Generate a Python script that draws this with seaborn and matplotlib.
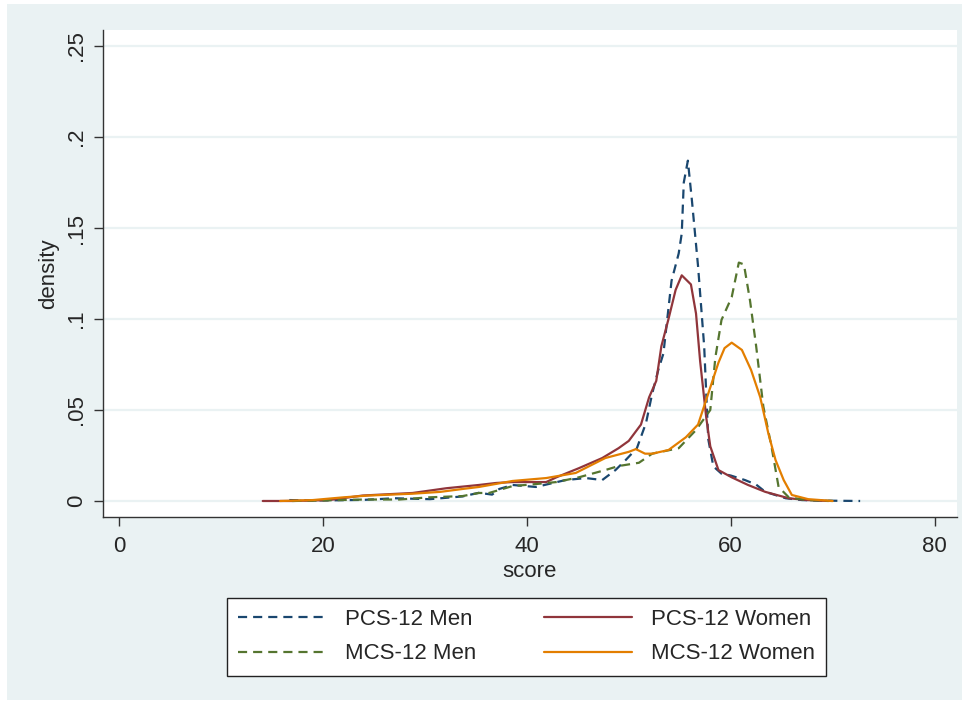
import matplotlib
matplotlib.use("Agg")
import matplotlib.pyplot as plt
import seaborn as sns
import pandas as pd
from matplotlib.patches import Rectangle

# density curves (score, density)
pcs_men_score = [16.7, 20, 24, 27, 30.5, 33.7, 35.3, 36.6, 37.3, 38.6, 40.9, 43.8, 45.8, 47.4,
                 48.7, 49.7, 50.8, 51.7, 52.3, 52.9, 53.4, 54.2, 54.9, 55.2, 55.4, 55.8, 56.2,
                 56.8, 57.4, 57.8, 58.3, 59.1, 60.0, 61.4, 62.5, 63.4, 65.4, 67.0, 69.0, 72.7]
pcs_men_dens = [0.0005, 0.0003, 0.0006, 0.0015, 0.001, 0.0025, 0.0045, 0.0035, 0.0066, 0.0088,
                0.0077, 0.0115, 0.0126, 0.0115, 0.017, 0.0225, 0.029, 0.043, 0.059, 0.072, 0.081,
                0.121, 0.136, 0.147, 0.175, 0.187, 0.165, 0.129, 0.085, 0.034, 0.019, 0.015,
                0.014, 0.0115, 0.009, 0.005, 0.0015, 0.0005, 0.0002, 0.0]

pcs_women_score = [14.1, 17, 20.6, 23.9, 28.8, 32.1, 35.3, 37, 38.6, 41.9, 42.9, 45.1, 47.4, 49.0,
                   50.0, 51.2, 52.0, 52.7, 53.2, 53.9, 54.6, 55.2, 56.1, 56.6, 57.0, 57.6, 58.0,
                   58.8, 60.1, 61.7, 63.4, 65.7, 67.5, 69.6]
pcs_women_dens = [0.0, 0.0, 0.0005, 0.003, 0.0044, 0.007, 0.0088, 0.0099, 0.0104, 0.0104, 0.013,
                  0.018, 0.0236, 0.029, 0.033, 0.042, 0.057, 0.066, 0.085, 0.100, 0.116, 0.124,
                  0.119, 0.103, 0.077, 0.046, 0.030, 0.017, 0.013, 0.0088, 0.005, 0.0015, 0.0005, 0.0]

mcs_men_score = [17, 20, 24, 27.5, 30.4, 33.7, 35.3, 36.3, 38.6, 40.9, 42.9, 45.1, 47.7, 49.0,
                 51.0, 52.3, 54.9, 56.6, 58.0, 58.5, 59.1, 60.1, 60.8, 61.3, 61.9, 62.5, 63.2,
                 64.0, 64.7, 65.7, 67.5, 70.0]
mcs_men_dens = [0.0, 0.0003, 0.0008, 0.0008, 0.002, 0.0027, 0.0044, 0.0044, 0.0082, 0.0093,
                0.0104, 0.013, 0.017, 0.0192, 0.021, 0.026, 0.029, 0.039, 0.050, 0.079, 0.0995,
                0.112, 0.131, 0.130, 0.110, 0.085, 0.052, 0.030, 0.0077, 0.002, 0.0005, 0.0]

mcs_women_score = [15.8, 19, 22, 24.5, 28.8, 31.5, 33.7, 35.3, 38.6, 41.9, 44.8, 47.7, 50.0, 50.7,
                   51.6, 52.3, 53.9, 55.6, 56.8, 57.8, 58.8, 59.4, 60.1, 61.1, 62.0, 62.9,
                   63.7, 64.4, 65.2, 66.0, 67.6, 70.0]
mcs_women_dens = [0.0, 0.0005, 0.002, 0.003, 0.004, 0.005, 0.0066, 0.0077, 0.011, 0.0126, 0.0154,
                  0.0236, 0.027, 0.0285, 0.026, 0.026, 0.028, 0.035, 0.042, 0.059, 0.076, 0.084,
                  0.087, 0.083, 0.072, 0.057, 0.037, 0.0225, 0.0115, 0.0033, 0.001, 0.0]

x_ticks = [0, 20, 40, 60, 80]
y_ticks = [0, 0.05, 0.1, 0.15, 0.2, 0.25]
y_tick_labels = ["0", ".05", ".1", ".15", ".2", ".25"]

series = [
    ("PCS-12 Men", pcs_men_score, pcs_men_dens, "#1A476F", True),
    ("PCS-12 Women", pcs_women_score, pcs_women_dens, "#90353B", False),
    ("MCS-12 Men", mcs_men_score, mcs_men_dens, "#55752F", True),
    ("MCS-12 Women", mcs_women_score, mcs_women_dens, "#E37E00", False),
]

sns.set_style("white")
plt.rcParams["font.family"] = ["Liberation Sans", "DejaVu Sans"]
plt.rcParams["font.size"] = 16

bg = "#EAF2F3"
fig = plt.figure(figsize=(9.66, 7.06), dpi=100, facecolor="white")
fig.patches.append(Rectangle((7 / 966, 1 - 700 / 706), 955 / 966, 696 / 706,
                             transform=fig.transFigure, facecolor=bg, edgecolor="none", zorder=-10))
ax = fig.add_axes([103 / 966, 1 - 517 / 706, 854 / 966, 487 / 706])
ax.set_facecolor("white")

handles = {}
for name, xs, ys, col, dashed in series:
    df = pd.DataFrame({"score": xs, "density": ys})
    sns.lineplot(data=df, x="score", y="density", ax=ax, color=col, linewidth=1.6,
                 sort=False, estimator=None)
    line = ax.lines[-1]
    if dashed:
        line.set_dashes((4.1, 2.7))
    handles[name] = line

ax.set_xlim(-1.57, 82.2)
ax.set_ylim(-0.0088, 0.2588)
ax.set_xticks(x_ticks)
ax.set_yticks(y_ticks)
ax.set_yticklabels(y_tick_labels, rotation=90, va="center")
for y in y_ticks:
    ax.axhline(y, color=bg, linewidth=1.6, zorder=0)

for side in ["top", "right"]:
    ax.spines[side].set_visible(False)
for side in ["left", "bottom"]:
    ax.spines[side].set_color("#333333")
    ax.spines[side].set_linewidth(1.0)
ax.tick_params(axis="both", direction="out", length=6.5, width=1, color="#333333",
               labelsize=16, pad=5, left=True, bottom=True)
ax.tick_params(axis="x", pad=7)
ax.set_xlabel("score", fontsize=16, labelpad=3)
ax.set_ylabel("density", fontsize=16, labelpad=5)

order = ["PCS-12 Men", "MCS-12 Men", "PCS-12 Women", "MCS-12 Women"]
leg = fig.legend([handles[n] for n in order], order, ncol=2, loc="center",
                 bbox_to_anchor=(227 / 966, 30 / 706, 599 / 966, 79 / 706), mode="expand",
                 frameon=True, fancybox=False, edgecolor="#222222", facecolor="white",
                 framealpha=1, fontsize=16, handlelength=3.96, handletextpad=0.86,
                 columnspacing=2.3, labelspacing=0.62, borderpad=0.5, borderaxespad=0)
leg.get_frame().set_linewidth(1.0)

fig.savefig("out.png", dpi=100, facecolor=fig.get_facecolor())
